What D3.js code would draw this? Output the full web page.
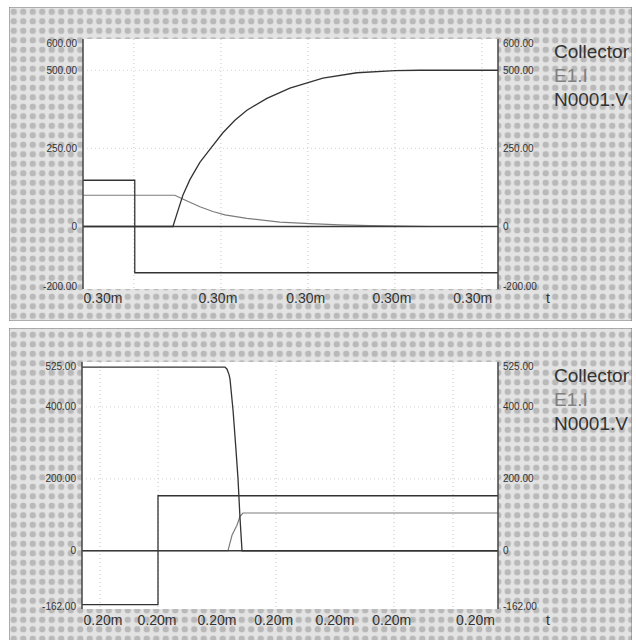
<!DOCTYPE html>
<html><head><meta charset="utf-8">
<script src="https://cdn.jsdelivr.net/npm/d3@7"></script>
<style>html,body{margin:0;padding:0;background:#fff;}svg{display:block;}</style>
</head><body>
<svg id="c" width="636" height="640"></svg>
<script>
// ---------- DATA (time in µs, values in V / A) ----------
const seriesNames = ["Collector", "E1.I", "N0001.V"];

// Top panel
const topTimeDomain = [299.683, 300.637];
const topValueDomain = [-200, 600];
const topValueTicks = [600, 500, 250, 0, -200];
const topTimeLabels = [299.729, 299.993, 300.195, 300.393, 300.579];
const topGridTimes = [299.8, 300.0, 300.2, 300.4, 300.6];
const topGridValues = [500, 250];
const topCollector = [[299.683,0],[299.8897,0],[299.9011,50],[299.9126,100],[299.9287,150],[299.9517,205],[299.9747,247],[300.0046,300],[300.0322,340],[300.0598,372],[300.1057,410],[300.1586,443],[300.2345,475],[300.3126,492],[300.4,499],[300.4575,500],[300.637,500]];
const topE1I = [[299.683,100],[299.8943,100],[299.9172,85],[299.9517,63],[299.9816,48],[300.0092,37],[300.0598,26],[300.1356,14],[300.2046,9],[300.2736,5],[300.3425,3],[300.4115,1],[300.4805,0],[300.637,0]];
const topN0001V = [[299.683,148],[299.802,148],[299.802,-148],[300.637,-148]];

// Bottom panel
const botTimeDomain = [199.8356, 200.1881];
const botValueDomain = [-162, 525];
const botValueTicks = [525, 400, 200, 0, -162];
const botTimeLabels = [199.8534, 199.8992, 199.950, 199.998, 200.050, 200.098, 200.169];
const botGridTimes = [199.851, 199.9, 200.0, 200.1, 200.15];
const botGridValues = [400, 200];
const botCollector = [[199.8356,511],[199.9568,511],[199.9585,505],[199.9602,490],[199.9610,478],[199.9636,390],[199.9661,280],[199.9678,200],[199.9695,90],[199.9712,0],[200.1881,0]];
const botE1I = [[199.8356,0],[199.9593,0],[199.9627,43],[199.9669,71],[199.9695,96],[199.9720,105],[200.1881,105]];
const botN0001V = [[199.8356,-150],[199.9,-150],[199.9,153],[200.1881,153]];

// ---------- DRAWING ----------
const svg = d3.select("#c");
const defs = svg.append("defs");
const pat = defs.append("pattern").attr("id","ht").attr("patternUnits","userSpaceOnUse")
  .attr("width",9.5).attr("height",9.5).attr("x",9).attr("y",7);
pat.append("rect").attr("width",9.5).attr("height",9.5).attr("fill","#e3e3e3");
pat.append("circle").attr("cx",4.75).attr("cy",4.75).attr("r",3.2).attr("fill","#b9b9b9");

const FONT = "'Liberation Sans', Arial, sans-serif";
const colors = {"Collector":"#333","E1.I":"#7c7c7c","N0001.V":"#333"};
const drawOrder = ["E1.I", "zero", "Collector", "N0001.V"];
const fmtV = d => d === 0 ? "0" : d.toFixed(2);
const fmtT = t => (t/1000).toFixed(2) + "m";

const panels = [
  {box:[9,7,623,314], plot:[83,39,498,289], tD:topTimeDomain, vD:topValueDomain, vT:topValueTicks,
   tL:topTimeLabels, gT:topGridTimes, gV:topGridValues,
   series:{"Collector":topCollector,"E1.I":topE1I,"N0001.V":topN0001V}, xBase:303, legY:58},
  {box:[9,328,623,330], plot:[82,362,498,609], tD:botTimeDomain, vD:botValueDomain, vT:botValueTicks,
   tL:botTimeLabels, gT:botGridTimes, gV:botGridValues,
   series:{"Collector":botCollector,"E1.I":botE1I,"N0001.V":botN0001V}, xBase:625, legY:382}
];

panels.forEach((p,i) => {
  const [bx,by,bw,bh] = p.box;
  const [x0,y0,x1,y1] = p.plot;
  const g = svg.append("g");
  const cid = "clip"+i;
  defs.append("clipPath").attr("id",cid).append("rect").attr("x",bx).attr("y",by).attr("width",bw).attr("height",bh);
  g.attr("clip-path",`url(#${cid})`);
  g.append("rect").attr("x",bx).attr("y",by).attr("width",bw).attr("height",bh)
    .attr("fill","url(#ht)").attr("stroke","#777").attr("stroke-width",1);
  g.append("rect").attr("x",x0).attr("y",y0).attr("width",x1-x0).attr("height",y1-y0).attr("fill","#fff");

  const x = d3.scaleLinear().domain(p.tD).range([x0,x1]);
  const y = d3.scaleLinear().domain(p.vD).range([y1,y0]);

  // gridlines
  g.selectAll(null).data(p.gT).join("line")
    .attr("x1",d=>x(d)).attr("x2",d=>x(d)).attr("y1",y0).attr("y2",y1)
    .attr("stroke","#c8c8c8").attr("stroke-width",1).attr("stroke-dasharray","1,3");
  g.selectAll(null).data(p.gV).join("line")
    .attr("y1",d=>y(d)).attr("y2",d=>y(d)).attr("x1",x0).attr("x2",x1)
    .attr("stroke","#d4d4d4").attr("stroke-width",1).attr("stroke-dasharray","1,3");

  // series + zero reference
  const line = d3.line().x(d=>x(d[0])).y(d=>y(d[1]));
  drawOrder.forEach(n => {
    if (n === "zero") {
      g.append("line").attr("x1",x0).attr("x2",x1).attr("y1",y(0)).attr("y2",y(0))
        .attr("stroke","#3a3a3a").attr("stroke-width",1.4);
    } else {
      g.append("path").datum(p.series[n]).attr("d",line).attr("fill","none")
        .attr("stroke",colors[n]).attr("stroke-width",n==="E1.I"?1.2:1.3);
    }
  });

  // axis lines
  g.append("line").attr("x1",x0).attr("x2",x0).attr("y1",y0).attr("y2",y1).attr("stroke","#444").attr("stroke-width",1.5);
  g.append("line").attr("x1",x1).attr("x2",x1).attr("y1",y0).attr("y2",y1).attr("stroke","#444").attr("stroke-width",1.5);

  // value labels (left and right)
  const last = p.vT.length-1;
  const nud = (d,k) => k===0 ? 4 : (k===last ? -3 : 0);
  g.selectAll(null).data(p.vT).join("text")
    .attr("x",x0-6).attr("y",(d,k)=>y(d)+nud(d,k)).attr("dy","0.35em").attr("text-anchor","end")
    .attr("font-family",FONT).attr("font-size",10).attr("fill","#333").text(fmtV);
  g.selectAll(null).data(p.vT).join("text")
    .attr("x",x1+5).attr("y",(d,k)=>y(d)+nud(d,k)).attr("dy","0.35em").attr("text-anchor","start")
    .attr("font-family",FONT).attr("font-size",10).attr("fill","#333").text(fmtV);

  // time labels
  g.selectAll(null).data(p.tL).join("text")
    .attr("x",d=>x(d)).attr("y",p.xBase).attr("text-anchor","middle")
    .attr("font-family",FONT).attr("font-size",14).attr("fill","#333").text(fmtT);
  g.append("text").attr("x",548).attr("y",p.xBase).attr("text-anchor","middle")
    .attr("font-family",FONT).attr("font-size",14).attr("fill","#333").text("t");

  // legend
  seriesNames.forEach((n,k) => {
    g.append("text").attr("x",554).attr("y",p.legY + k*24)
      .attr("font-family",FONT).attr("font-size",19).attr("fill",n==="E1.I"?"#808080":"#333").text(n);
  });
});
</script>
</body></html>
